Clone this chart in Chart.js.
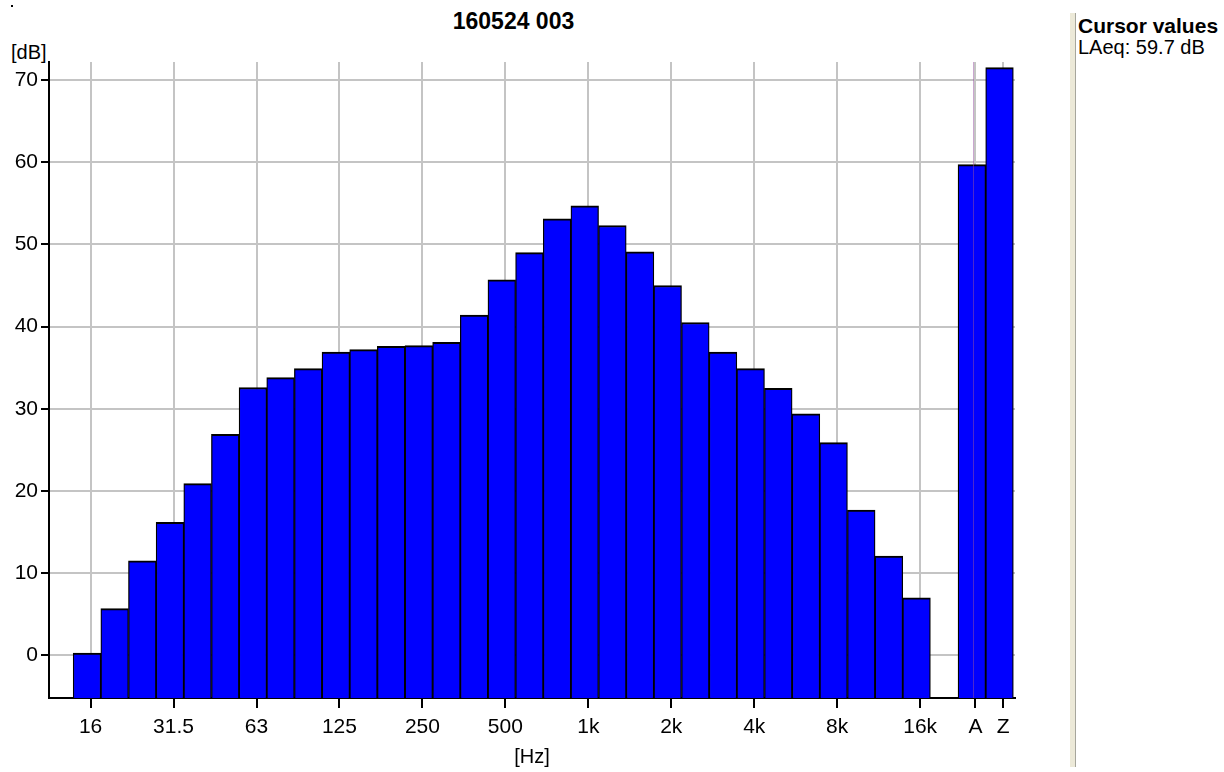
<!DOCTYPE html>
<html>
<head>
<meta charset="utf-8">
<script src="https://cdn.jsdelivr.net/npm/chart.js@4.4.1/dist/chart.umd.min.js"></script>
<style>
  html, body { margin: 0; padding: 0; background: #fff; }
  body { width: 1224px; height: 772px; position: relative; overflow: hidden;
         font-family: 'Liberation Sans', Arial, sans-serif; }
  #c { position: absolute; left: 0; top: 0; }
  .txt { position: absolute; white-space: nowrap; color: #000; line-height: 1; }
  #title { left: 0; width: 1027px; text-align: center; top: 10px; font-size: 23px; font-weight: bold; }
  #ylab { left: 11px; top: 42px; font-size: 20px; }
  #sep { position: absolute; left: 1070px; top: 13px; width: 5px; height: 754px; background: #ece9d8; border-right: 1px solid #a7a69c; }
  #cvh { left: 1078px; top: 15px; font-size: 21px; font-weight: bold; }
  #cvv { left: 1078px; top: 37px; font-size: 20px; }
  #dot { position: absolute; left: 11px; top: 5px; width: 2px; height: 2px; background: #000; }
</style>
</head>
<body>
<div id="dot"></div>
<div class="txt" id="title"></div>
<div class="txt" id="ylab">[dB]</div>
<div id="sep"></div>
<div class="txt" id="cvh">Cursor values</div>
<div class="txt" id="cvv"></div>
<canvas id="c" width="1224" height="772"></canvas>
<script>
// ---- data ----
const chartTitle = '160524 003';
const bands = ['16','20','25','31.5','40','50','63','80','100','125','160','200','250','315','400',
               '500','630','800','1k','1.25k','1.6k','2k','2.5k','3.15k','4k','5k','6.3k','8k','10k','12.5k','16k'];
const bandLevels = [0.3, 5.7, 11.5, 16.2, 20.9, 26.9, 32.6, 33.8, 34.9, 36.9, 37.2, 37.6, 37.7, 38.1, 41.4,
                    45.7, 49.0, 53.1, 54.7, 52.3, 49.1, 45.0, 40.5, 36.9, 34.9, 32.5, 29.4, 25.9, 17.7, 12.1, 7.0];
const broadbands = ['A', 'Z'];
const broadbandLevels = [59.7, 71.5];
const xTickLabels = ['16','31.5','63','125','250','500','1k','2k','4k','8k','16k','A','Z'];
const yTicks = [0, 10, 20, 30, 40, 50, 60, 70];
const cursorBand = 'A';
const yMin = -5.17, yMax = 72.19;

// categories: octave-thirds, one empty slot, then broadband values
const categories = bands.concat([''], broadbands);
const levels = bandLevels.concat([null], broadbandLevels);

document.getElementById('title').textContent = chartTitle;
document.getElementById('cvv').textContent = 'LAeq: ' + broadbandLevels[broadbands.indexOf('A')].toFixed(1) + ' dB';

const points = [];
categories.forEach((c, i) => { if (levels[i] !== null) points.push({ x: i, y: levels[i] }); });

const FONT = "'Liberation Sans', Arial, sans-serif";
const tickShift = 0.13;

const cursorPlugin = {
  id: 'cursor',
  afterDatasetsDraw(chart) {
    const xs = chart.scales.x, area = chart.chartArea, ctx = chart.ctx;
    const px = Math.round(xs.getPixelForValue(categories.indexOf(cursorBand) + 0.05)) + 0.5;
    ctx.save();
    ctx.strokeStyle = 'rgba(150,80,160,0.5)';
    ctx.lineWidth = 1;
    ctx.beginPath();
    ctx.moveTo(px, area.top);
    ctx.lineTo(px, area.bottom);
    ctx.stroke();
    ctx.restore();
  }
};

new Chart(document.getElementById('c'), {
  type: 'bar',
  data: {
    datasets: [{
      data: points,
      backgroundColor: '#0000ff',
      borderColor: '#000000',
      borderWidth: { top: 2, left: 1.3, right: 1.3, bottom: 0 },
      borderSkipped: false,
      base: yMin,
      barPercentage: 1,
      categoryPercentage: 1
    }]
  },
  options: {
    responsive: false,
    animation: false,
    devicePixelRatio: 1,
    layout: { padding: { left: 0, right: 209, top: 62, bottom: 0 } },
    plugins: { legend: { display: false }, tooltip: { enabled: false }, title: { display: false } },
    scales: {
      x: {
        type: 'linear',
        offset: false,
        min: -1.374,
        max: 33.56,
        afterFit(s) { s.height = 74; },
        afterBuildTicks(s) {
          s.ticks = xTickLabels.map(l => ({ value: categories.indexOf(l) + tickShift }));
        },
        ticks: {
          autoSkip: false,
          maxRotation: 0,
          padding: 7,
          color: '#000',
          font: { family: FONT, size: 21 },
          callback: (v) => categories[Math.round(v - tickShift)]
        },
        grid: { offset: false, color: '#c4c4c4', lineWidth: 2, tickColor: '#000', tickLength: 10, tickWidth: 2 },
        border: { display: true, color: '#000', width: 2 },
        title: { display: true, text: '[Hz]', color: '#000', font: { family: FONT, size: 20 }, padding: { top: 0, bottom: 3 } }
      },
      y: {
        min: yMin,
        max: yMax,
        afterFit(s) { s.width = 49; },
        afterBuildTicks(s) { s.ticks = yTicks.map(v => ({ value: v })); },
        ticks: { padding: 3, color: '#000', font: { family: FONT, size: 21 } },
        grid: { color: '#c4c4c4', lineWidth: 2, tickColor: '#000', tickLength: 8, tickWidth: 2 },
        border: { display: true, color: '#000', width: 2 }
      }
    }
  },
  plugins: [cursorPlugin]
});
</script>
</body>
</html>
